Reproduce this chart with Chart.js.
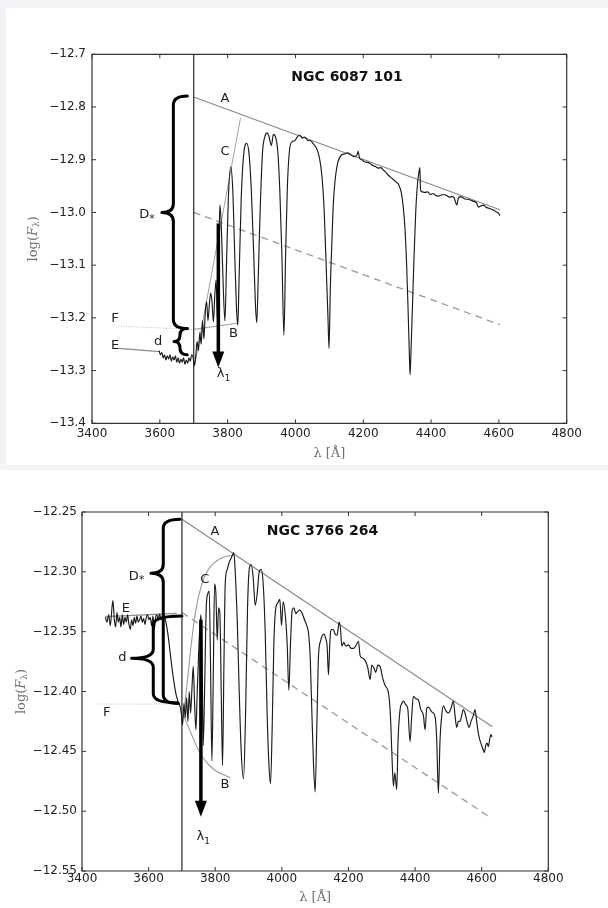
<!DOCTYPE html>
<html lang="en">
<head>
<meta charset="UTF-8">
<title>Balmer jump spectra</title>
<style>
  body { margin: 0; background: #fff; }
  #wrap { position: relative; width: 608px; height: 908px; overflow: hidden; }
  #topBg { position: absolute; left: 0; top: 0; width: 608px; height: 470px; background: #f3f3f8; }
  #topWhite { position: absolute; left: 6px; top: 8px; width: 602px; height: 457px; background: #fff; }
  canvas { position: absolute; left: 0; }
  #topChart { top: 0; }
  #botChart { top: 470px; }
</style>
<script src="https://cdn.jsdelivr.net/npm/chart.js"></script>
</head>
<body>
<div id="wrap">
  <div id="topBg"></div>
  <div id="topWhite"></div>
  <canvas id="topChart" width="608" height="470"></canvas>
  <canvas id="botChart" width="608" height="438"></canvas>
</div>
<script>
// ---------- top panel: NGC 6087 101 ----------
const topXTicks = [3400, 3600, 3800, 4000, 4200, 4400, 4600, 4800];
const topYTicks = [-13.4, -13.3, -13.2, -13.1, -13.0, -12.9, -12.8, -12.7];

const topWave = [
  3598, 3602, 3606, 3610, 3614, 3618, 3622, 3626, 3630, 3634, 3638, 3642, 3646, 3650, 3654, 3658,
  3662, 3666, 3670, 3674, 3678, 3682, 3686, 3690, 3694, 3698,
  3702, 3706, 3710, 3714, 3718, 3722, 3726, 3730, 3734, 3738, 3742, 3746, 3750, 3754, 3758, 3762,
  3766, 3770, 3774, 3777, 3781, 3786, 3792, 3797, 3802, 3809, 3815, 3821, 3826, 3830, 3834, 3840,
  3847, 3856, 3863, 3870, 3877, 3882, 3886, 3890, 3896, 3903, 3910, 3916, 3922, 3929, 3935, 3941,
  3948, 3954, 3960, 3966, 3971, 3976, 3982, 3990, 3998, 4006, 4013, 4020, 4028, 4036, 4045, 4053,
  4062, 4070, 4078, 4085, 4092, 4096, 4099, 4103, 4107, 4112, 4117, 4125, 4136, 4145, 4153, 4161,
  4168, 4176, 4182, 4185, 4189, 4196, 4204, 4212, 4220, 4228, 4236, 4244, 4252, 4258, 4264, 4272,
  4280, 4290, 4298, 4305, 4312, 4318, 4323, 4328, 4332, 4336, 4338, 4341, 4345, 4350, 4355, 4360,
  4364, 4367, 4369, 4374, 4382, 4390, 4398, 4406, 4414, 4422, 4430, 4438, 4446, 4454, 4462, 4468,
  4472, 4476, 4480, 4486, 4494, 4502, 4510, 4518, 4526, 4534, 4540, 4546, 4554, 4562, 4570, 4578,
  4586, 4592, 4598, 4603
];
const topFlux = [
  -13.262, -13.270, -13.266, -13.276, -13.270, -13.280, -13.272, -13.278, -13.270, -13.282, -13.274, -13.280, -13.272, -13.284, -13.276, -13.286,
  -13.278, -13.284, -13.276, -13.288, -13.280, -13.286, -13.276, -13.282, -13.270, -13.274,
  -13.290, -13.272, -13.245, -13.262, -13.228, -13.250, -13.205, -13.240, -13.190, -13.169, -13.205, -13.175, -13.153, -13.170, -13.208, -13.160,
  -13.128, -13.205, -13.080, -12.986, -13.020, -13.120, -13.206, -13.090, -12.975, -12.914, -12.955, -13.080, -13.180, -13.214, -13.120, -12.975,
  -12.892, -12.869, -12.888, -12.960, -13.080, -13.175, -13.209, -13.130, -12.995, -12.885, -12.856, -12.849, -12.856, -12.873, -12.852, -12.856,
  -12.885, -12.960, -13.080, -13.233, -13.080, -12.955, -12.885, -12.866, -12.864, -12.856, -12.853, -12.859, -12.857, -12.863, -12.864, -12.870,
  -12.878, -12.894, -12.930, -13.000, -13.128, -13.200, -13.258, -13.140, -13.065, -12.980, -12.939, -12.905, -12.891, -12.889, -12.887, -12.889,
  -12.893, -12.894, -12.890, -12.884, -12.897, -12.900, -12.904, -12.905, -12.907, -12.911, -12.913, -12.916, -12.915, -12.919, -12.922, -12.928,
  -12.933, -12.938, -12.943, -12.948, -12.962, -12.990, -13.030, -13.100, -13.180, -13.270, -13.308, -13.260, -13.180, -13.080, -12.995, -12.945,
  -12.925, -12.915, -12.958, -12.961, -12.962, -12.961, -12.966, -12.964, -12.968, -12.969, -12.967, -12.966, -12.968, -12.971, -12.970, -12.972,
  -12.980, -12.986, -12.974, -12.970, -12.972, -12.975, -12.975, -12.977, -12.979, -12.982, -12.990, -12.988, -12.986, -12.990, -12.992, -12.994,
  -12.996, -12.999, -13.001, -13.006
];

const topLineAWave = [3700, 4603];
const topLineAFlux = [-12.781, -12.995];
const topDashWave = [3700, 4603];
const topDashFlux = [-13.0, -13.213];
const topLineCWave = [3702, 3838];
const topLineCFlux = [-13.293, -12.821];
const topLineBWave = [3699, 3829];
const topLineBFlux = [-13.222, -13.210];
const topLineEWave = [3478, 3600];
const topLineEFlux = [-13.258, -13.264];
const topLineFWave = [3478, 3700];
const topLineFFlux = [-13.2155, -13.222];
const topEdge = 3700;

// ---------- bottom panel: NGC 3766 264 ----------
const botXTicks = [3400, 3600, 3800, 4000, 4200, 4400, 4600, 4800];
const botYTicks = [-12.55, -12.50, -12.45, -12.40, -12.35, -12.30, -12.25];

const botWave = [
  3470, 3475, 3480, 3485, 3490, 3493, 3497, 3501, 3505, 3509, 3513, 3517, 3521, 3525, 3529, 3533,
  3537, 3541, 3545, 3549, 3553, 3557, 3561, 3565, 3569, 3573, 3577, 3581, 3585, 3589, 3593, 3597,
  3601, 3605, 3609, 3613, 3617, 3621, 3625, 3629, 3633, 3637, 3640, 3646, 3652, 3658, 3664, 3670,
  3676, 3682, 3688, 3694, 3698, 3702, 3706, 3710, 3714, 3718, 3722, 3726, 3730, 3734, 3738, 3742,
  3746, 3750, 3754, 3757, 3760, 3764, 3768, 3773, 3778, 3782, 3786, 3790, 3794, 3798, 3802, 3806,
  3810, 3814, 3818, 3822, 3826, 3830, 3836, 3842, 3847, 3852, 3856, 3860, 3866, 3872, 3878, 3885,
  3891, 3897, 3903, 3908, 3914, 3920, 3926, 3932, 3938, 3944, 3950, 3956, 3961, 3966, 3971, 3976,
  3982, 3988, 3994, 3999, 4004, 4010, 4016, 4021, 4026, 4031, 4036, 4042, 4048, 4054, 4060, 4068,
  4075, 4080, 4085, 4090, 4095, 4100, 4105, 4110, 4116, 4120, 4126, 4132, 4136, 4140, 4144, 4147,
  4154, 4160, 4166, 4172, 4176, 4180, 4186, 4192, 4200, 4208, 4215, 4222, 4230, 4235, 4242, 4250,
  4258, 4265, 4270, 4276, 4282, 4288, 4295, 4302, 4310, 4320, 4326, 4330, 4335, 4339, 4345, 4349,
  4355, 4360, 4365, 4372, 4378, 4385, 4390, 4395, 4402, 4410, 4417, 4425, 4430, 4435, 4440, 4450,
  4460, 4465, 4470, 4475, 4480, 4485, 4492, 4500, 4508, 4515, 4520, 4525, 4530, 4535, 4540, 4545,
  4550, 4556, 4562, 4568, 4575, 4580, 4585, 4590, 4595, 4600, 4605, 4608, 4612, 4616, 4620, 4624,
  4628, 4631
];
const botFlux = [
  -12.338, -12.342, -12.336, -12.345, -12.330, -12.324, -12.340, -12.346, -12.334, -12.342, -12.338, -12.346, -12.336, -12.344, -12.338, -12.342,
  -12.336, -12.344, -12.348, -12.340, -12.345, -12.338, -12.343, -12.337, -12.342, -12.340, -12.337, -12.342, -12.339, -12.344, -12.338, -12.336,
  -12.340, -12.338, -12.345, -12.337, -12.348, -12.338, -12.336, -12.340, -12.335, -12.340, -12.338, -12.336, -12.342, -12.352, -12.366, -12.380,
  -12.392, -12.402, -12.408, -12.412, -12.418, -12.428, -12.410, -12.422, -12.405, -12.425, -12.400, -12.418, -12.398, -12.379, -12.410, -12.432,
  -12.400, -12.370, -12.345, -12.336, -12.360, -12.445, -12.400, -12.330, -12.318, -12.316, -12.380, -12.458, -12.390, -12.310, -12.318, -12.357,
  -12.330, -12.335, -12.400, -12.462, -12.380, -12.310, -12.298, -12.292, -12.289, -12.286, -12.284, -12.300, -12.340, -12.400, -12.450, -12.473,
  -12.420, -12.330, -12.296, -12.294, -12.305, -12.328, -12.318, -12.300, -12.298, -12.310, -12.350, -12.420, -12.460, -12.477, -12.430, -12.360,
  -12.330, -12.326, -12.323, -12.345, -12.325, -12.335, -12.360, -12.399, -12.360, -12.332, -12.330, -12.335, -12.333, -12.332, -12.334, -12.340,
  -12.345, -12.351, -12.370, -12.416, -12.460, -12.484, -12.430, -12.371, -12.358, -12.354, -12.352, -12.356, -12.362, -12.386, -12.360, -12.349,
  -12.348, -12.352, -12.353, -12.342, -12.347, -12.362, -12.359, -12.362, -12.361, -12.364, -12.364, -12.362, -12.358, -12.370, -12.372, -12.374,
  -12.380, -12.390, -12.378, -12.380, -12.384, -12.378, -12.379, -12.388, -12.395, -12.401, -12.420, -12.449, -12.479, -12.468, -12.482, -12.440,
  -12.415, -12.410, -12.408, -12.411, -12.414, -12.442, -12.420, -12.404, -12.406, -12.407, -12.415, -12.420, -12.432, -12.414, -12.413, -12.417,
  -12.421, -12.440, -12.485, -12.440, -12.420, -12.412, -12.416, -12.418, -12.414, -12.408, -12.420, -12.430, -12.425, -12.425, -12.420, -12.415,
  -12.418, -12.425, -12.430, -12.425, -12.420, -12.415, -12.425, -12.435, -12.441, -12.445, -12.449, -12.451, -12.445, -12.443, -12.446, -12.440,
  -12.436, -12.438
];

const botLineAWave = [3700, 4632];
const botLineAFlux = [-12.256, -12.4294];
const botDashWave = [3700, 4622];
const botDashFlux = [-12.334, -12.5046];
const botLineCWave = [3704, 3715, 3725, 3735, 3745, 3760, 3775, 3795, 3815, 3835, 3856];
const botLineCFlux = [-12.422, -12.395, -12.368, -12.345, -12.327, -12.310, -12.300, -12.293, -12.289, -12.287, -12.286];
const botLineBWave = [3704, 3720, 3735, 3750, 3765, 3780, 3800, 3820, 3845];
const botLineBFlux = [-12.420, -12.430, -12.440, -12.449, -12.456, -12.461, -12.466, -12.469, -12.472];
const botLineEWave = [3470, 3684];
const botLineEFlux = [-12.3375, -12.3347];
const botLineFWave = [3450, 3700];
const botLineFFlux = [-12.4105, -12.4105];
const botEdge = 3700;

// ---------- helpers ----------
const tickFont = { family: 'DejaVu Sans', size: 12 };

function pts(xs, ys) { return xs.map((x, i) => ({ x: x, y: ys[i] })); }

function line(xs, ys, color, width, extra) {
  return Object.assign({
    data: pts(xs, ys), borderColor: color, borderWidth: width,
    showLine: true, pointRadius: 0, fill: false
  }, extra || {});
}

function spectrumSet(xs, ys) {
  return line(xs, ys, '#1b1b1b', 1.15, { cubicInterpolationMode: 'monotone' });
}

function edgeSet(edge, yTicks) {
  return line([edge, edge], [yTicks[0], yTicks[yTicks.length - 1]], '#262626', 1.2);
}

// draws a row of text runs (different fonts / subscripts) centred at x,y
function drawRuns(ctx, runs, x, y) {
  let w = 0;
  runs.forEach(r => { ctx.font = r.font; w += ctx.measureText(r.t).width; });
  let cx = x - w / 2;
  ctx.textAlign = 'left';
  ctx.textBaseline = 'middle';
  runs.forEach(r => {
    ctx.font = r.font;
    ctx.fillText(r.t, cx, y + (r.dy || 0));
    cx += ctx.measureText(r.t).width;
  });
}

const labFont = '13px "DejaVu Sans"';
const subFont = '9px "DejaVu Sans"';
const serif = '"DejaVu Serif"';

function decor(p) {
  return {
    id: 'decor',
    afterDatasetsDraw(chart) {
      const ctx = chart.ctx, a = chart.chartArea;
      const xs = chart.scales.x, ys = chart.scales.y;
      const X = v => xs.getPixelForValue(v), Y = v => ys.getPixelForValue(v);
      ctx.save();

      // curly braces
      ctx.strokeStyle = '#000';
      ctx.lineWidth = 3;
      ctx.lineCap = 'round';
      ctx.lineJoin = 'round';
      p.braces.forEach(b => {
        const vx = X(b.lam), tx = X(b.tip), ex1 = X(b.endTop), ex2 = X(b.endBot);
        const yt = Y(b.top), ym = Y(b.mid), yb = Y(b.bot);
        const r1 = Math.min(9, (ym - yt) / 2), r2 = Math.min(9, (yb - ym) / 2);
        ctx.beginPath();
        ctx.moveTo(ex1, yt);
        ctx.quadraticCurveTo(vx, yt, vx, yt + r1);
        ctx.lineTo(vx, ym - r1);
        ctx.quadraticCurveTo(vx, ym, tx, ym);
        ctx.quadraticCurveTo(vx, ym, vx, ym + r2);
        ctx.lineTo(vx, yb - r2);
        ctx.quadraticCurveTo(vx, yb, ex2, yb);
        ctx.stroke();
      });

      // lambda_1 arrow
      const ax = X(p.arrow.lam), ay0 = Y(p.arrow.from), ay1 = Y(p.arrow.to);
      ctx.lineWidth = 3.5;
      ctx.lineCap = 'butt';
      ctx.beginPath();
      ctx.moveTo(ax, ay0);
      ctx.lineTo(ax, ay1 - 14);
      ctx.stroke();
      ctx.fillStyle = '#000';
      ctx.beginPath();
      ctx.moveTo(ax - 6, ay1 - 16);
      ctx.lineTo(ax + 6, ay1 - 16);
      ctx.lineTo(ax, ay1);
      ctx.closePath();
      ctx.fill();

      // frame and inward ticks
      ctx.strokeStyle = '#333';
      ctx.lineWidth = 1.2;
      ctx.strokeRect(a.left, a.top, a.right - a.left, a.bottom - a.top);
      ctx.lineWidth = 1;
      ctx.beginPath();
      p.xTicks.forEach(v => {
        const x = X(v);
        ctx.moveTo(x, a.bottom); ctx.lineTo(x, a.bottom - 4);
        ctx.moveTo(x, a.top); ctx.lineTo(x, a.top + 4);
      });
      p.yTicks.forEach(v => {
        const y = Y(v);
        ctx.moveTo(a.left, y); ctx.lineTo(a.left + 4, y);
        ctx.moveTo(a.right, y); ctx.lineTo(a.right - 4, y);
      });
      ctx.stroke();

      // letters
      ctx.fillStyle = '#1e1e1e';
      p.labels.forEach(l => drawRuns(ctx, l.runs, X(l.lam), Y(l.flux)));

      // title
      ctx.fillStyle = '#111';
      drawRuns(ctx, [{ t: p.title.text, font: 'bold 14px "DejaVu Sans"' }], X(p.title.lam), Y(p.title.flux));

      // axis titles
      ctx.fillStyle = '#707070';
      drawRuns(ctx, [{ t: 'λ [Å]', font: '13px ' + serif }], (a.left + a.right) / 2, a.bottom + p.xTitleGap);
      ctx.translate(a.left - p.yTitleGap, (a.top + a.bottom) / 2);
      ctx.rotate(-Math.PI / 2);
      drawRuns(ctx, [
        { t: 'log(', font: '13px ' + serif },
        { t: 'F', font: 'italic 13px ' + serif },
        { t: 'λ', font: '9px ' + serif, dy: 3 },
        { t: ')', font: '13px ' + serif }
      ], 0, 0);
      ctx.restore();
    }
  };
}

function makePanel(id, p) {
  const canvas = document.getElementById(id);
  const W = canvas.width, H = canvas.height, xAxisH = 30;
  return new Chart(canvas, {
    type: 'scatter',
    data: { datasets: p.datasets },
    options: {
      responsive: false,
      animation: false,
      devicePixelRatio: 1,
      layout: { padding: { left: 0, top: p.area.top, right: W - p.area.right, bottom: H - p.area.bottom - xAxisH } },
      plugins: { legend: { display: false }, tooltip: { enabled: false } },
      scales: {
        x: {
          type: 'linear',
          min: p.xTicks[0], max: p.xTicks[p.xTicks.length - 1],
          afterBuildTicks: s => { s.ticks = p.xTicks.map(v => ({ value: v })); },
          afterFit: s => { s.height = xAxisH; },
          grid: { display: false, drawTicks: false },
          border: { display: false },
          ticks: { font: tickFont, color: '#222', padding: p.xPad, maxRotation: 0, autoSkip: false,
                   callback: v => String(v) }
        },
        y: {
          type: 'linear',
          min: p.yTicks[0], max: p.yTicks[p.yTicks.length - 1],
          afterBuildTicks: s => { s.ticks = p.yTicks.map(v => ({ value: v })); },
          afterFit: s => { s.width = p.area.left; },
          grid: { display: false, drawTicks: false },
          border: { display: false },
          ticks: { font: tickFont, color: '#222', padding: p.yPad, autoSkip: false,
                   callback: v => '\u2212' + Math.abs(v).toFixed(p.dec) }
        }
      }
    },
    plugins: [decor(p)]
  });
}

const dStar = [{ t: 'D', font: labFont }, { t: '*', font: '11px "DejaVu Sans"', dy: 4 }];
const lam1 = [{ t: 'λ', font: labFont }, { t: '1', font: subFont, dy: 5 }];
const L = t => [{ t: t, font: labFont }];

makePanel('topChart', {
  area: { left: 92, top: 54.3, right: 566.7, bottom: 423.3 },
  xTicks: topXTicks, yTicks: topYTicks, dec: 1, xPad: 3, yPad: 6,
  xTitleGap: 30, yTitleGap: 58,
  datasets: [
    spectrumSet(topWave, topFlux),
    edgeSet(topEdge, topYTicks),
    line(topLineAWave, topLineAFlux, '#8a8a8a', 1.2),
    line(topDashWave, topDashFlux, '#9a9a9a', 1.3, { borderDash: [7, 5] }),
    line(topLineCWave, topLineCFlux, '#a2a2a2', 1),
    line(topLineBWave, topLineBFlux, '#9a9a9a', 1),
    line(topLineEWave, topLineEFlux, '#8c8c8c', 1.2),
    line(topLineFWave, topLineFFlux, '#b8b8b8', 1, { borderDash: [1, 1.5] })
  ],
  braces: [
    { lam: 3640, tip: 3606, endTop: 3681, endBot: 3681, top: -12.779, mid: -13.0, bot: -13.22 },
    { lam: 3659.5, tip: 3642, endTop: 3681, endBot: 3681, top: -13.22, mid: -13.245, bot: -13.27 }
  ],
  arrow: { lam: 3772.6, from: -13.021, to: -13.294 },
  labels: [
    { runs: L('A'), lam: 3792, flux: -12.785 },
    { runs: L('C'), lam: 3792, flux: -12.885 },
    { runs: L('B'), lam: 3817, flux: -13.229 },
    { runs: L('E'), lam: 3468, flux: -13.252 },
    { runs: L('F'), lam: 3468, flux: -13.201 },
    { runs: L('d'), lam: 3595, flux: -13.245 },
    { runs: dStar, lam: 3562, flux: -13.005 },
    { runs: lam1, lam: 3788, flux: -13.306 }
  ],
  title: { text: 'NGC 6087 101', lam: 4152, flux: -12.743 }
});

makePanel('botChart', {
  area: { left: 82, top: 42, right: 548.3, bottom: 401 },
  xTicks: botXTicks, yTicks: botYTicks, dec: 2, xPad: 1, yPad: 5,
  xTitleGap: 27, yTitleGap: 60,
  datasets: [
    spectrumSet(botWave, botFlux),
    edgeSet(botEdge, botYTicks),
    line(botLineAWave, botLineAFlux, '#8a8a8a', 1.2),
    line(botDashWave, botDashFlux, '#9a9a9a', 1.3, { borderDash: [7, 5] }),
    line(botLineCWave, botLineCFlux, '#9a9a9a', 1.1, { cubicInterpolationMode: 'monotone' }),
    line(botLineBWave, botLineBFlux, '#9a9a9a', 1.1, { cubicInterpolationMode: 'monotone' }),
    line(botLineEWave, botLineEFlux, '#8c8c8c', 1.3),
    line(botLineFWave, botLineFFlux, '#b8b8b8', 1, { borderDash: [1, 1.5] })
  ],
  braces: [
    { lam: 3644, tip: 3607, endTop: 3694, endBot: 3689, top: -12.2561, mid: -12.3012, bot: -12.41 },
    { lam: 3614, tip: 3549, endTop: 3700, endBot: 3686, top: -12.3369, mid: -12.3723, bot: -12.4093 }
  ],
  arrow: { lam: 3757, from: -12.340, to: -12.5046 },
  labels: [
    { runs: L('A'), lam: 3799, flux: -12.2665 },
    { runs: L('C'), lam: 3769, flux: -12.3068 },
    { runs: L('B'), lam: 3829, flux: -12.478 },
    { runs: L('E'), lam: 3532, flux: -12.3305 },
    { runs: L('F'), lam: 3474, flux: -12.418 },
    { runs: L('d'), lam: 3521, flux: -12.372 },
    { runs: dStar, lam: 3564, flux: -12.304 },
    { runs: lam1, lam: 3764, flux: -12.521 }
  ],
  title: { text: 'NGC 3766 264', lam: 4122, flux: -12.266 }
});
</script>
</body>
</html>
